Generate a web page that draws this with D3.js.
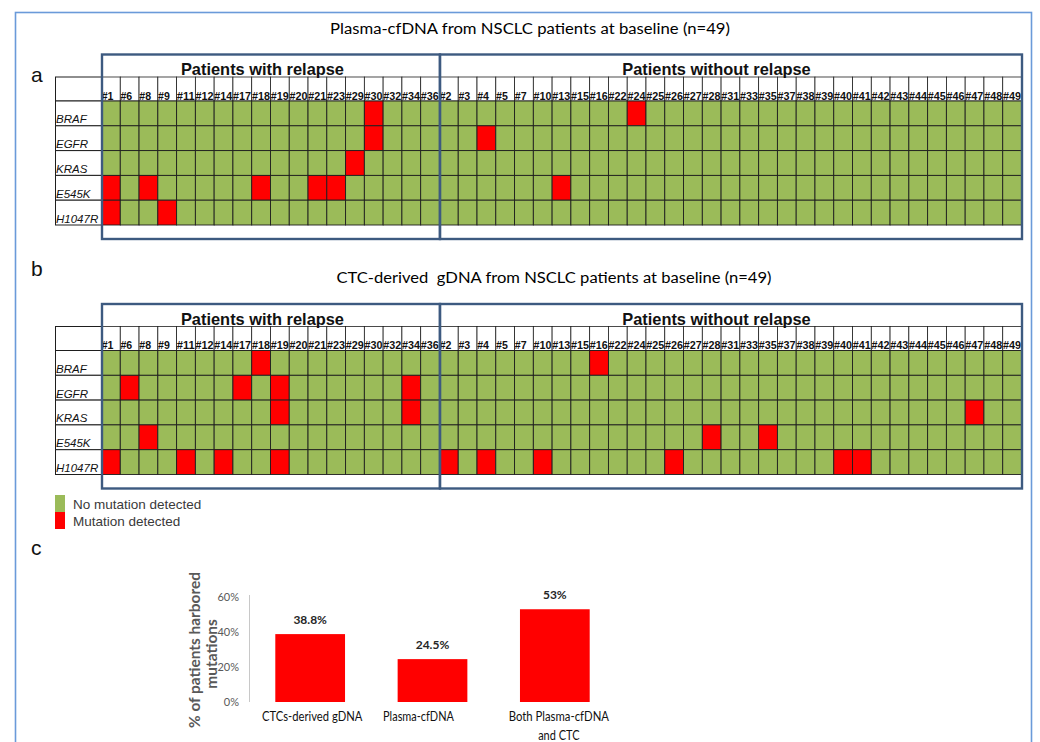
<!DOCTYPE html>
<html>
<head>
<meta charset="utf-8">
<script src="https://cdn.jsdelivr.net/npm/d3@7"></script>
<style>
  body { margin: 0; background: #fff; }
  svg { display: block; }
</style>
</head>
<body>
<svg id="chart" width="1040" height="742"></svg>
<script>
// ---------------- DATA ----------------
const relapsePatients = ["#1","#6","#8","#9","#11","#12","#14","#17","#18","#19","#20","#21","#23","#29","#30","#32","#34","#36"];
const nonRelapsePatients = ["#2","#3","#4","#5","#7","#10","#13","#15","#16","#22","#24","#25","#26","#27","#28","#31","#33","#35","#37","#38","#39","#40","#41","#42","#43","#44","#45","#46","#47","#48","#49"];
const genes = ["BRAF","EGFR","KRAS","E545K","H1047R"];

// [gene, patient] pairs where a mutation was detected
const plasmaMutations = [
  ["BRAF","#30"],["BRAF","#24"],
  ["EGFR","#30"],["EGFR","#4"],
  ["KRAS","#29"],
  ["E545K","#1"],["E545K","#8"],["E545K","#18"],["E545K","#21"],["E545K","#23"],["E545K","#13"],
  ["H1047R","#1"],["H1047R","#9"]
];
const ctcMutations = [
  ["BRAF","#18"],["BRAF","#16"],
  ["EGFR","#6"],["EGFR","#17"],["EGFR","#19"],["EGFR","#34"],
  ["KRAS","#19"],["KRAS","#34"],["KRAS","#47"],
  ["E545K","#8"],["E545K","#28"],["E545K","#35"],
  ["H1047R","#1"],["H1047R","#11"],["H1047R","#14"],["H1047R","#19"],
  ["H1047R","#2"],["H1047R","#4"],["H1047R","#10"],["H1047R","#26"],["H1047R","#40"],["H1047R","#41"]
];

const legendLabels = ["No mutation detected","Mutation detected"];

const barCategories = [["CTCs-derived gDNA"],["Plasma-cfDNA"],["Both Plasma-cfDNA","and CTC"]];
const barValues = [38.8, 24.5, 53];
const barLabels = ["38.8%","24.5%","53%"];
const yTicks = [0, 20, 40, 60];

// ---------------- STYLE ----------------
const GREEN = "#9bbb59", RED = "#ff0000", GRID = "#1e1e1e", BOX = "#3d5a80";
const svg = d3.select("#chart");

// outer frame
svg.append("rect").attr("x", 15.5).attr("y", 12.5).attr("width", 1016).attr("height", 760)
  .attr("fill", "none").attr("stroke", "#6a9ad9").attr("stroke-width", 1.6);

const allPatients = relapsePatients.concat(nonRelapsePatients);
const x = d3.scaleBand().domain(allPatients).range([101.5, 1021.5]).padding(0);

function drawHeatmap(off, title, titleX, titleLen, mutations) {
  const g = svg.append("g").attr("transform", `translate(0,${off})`);
  const mutSet = new Set(mutations.map(d => d[0] + "|" + d[1]));
  const y = d3.scaleBand().domain(genes).range([101, 225]).padding(0);
  const headTop = 77, headBot = 101;

  g.append("text").attr("x", titleX).attr("y", 33.5).attr("text-anchor", "middle")
    .style("white-space", "pre")
    .attr("font-family", "Lato, 'Open Sans', sans-serif").attr("font-size", 15.5).attr("fill", "#000")
    .attr("textLength", titleLen).attr("lengthAdjust", "spacingAndGlyphs")
    .text(title);

  // label column cells
  const labelRows = [{t: headTop, b: headBot}].concat(genes.map(gn => ({t: y(gn), b: y(gn) + y.bandwidth()})));
  g.selectAll("rect.lab").data(labelRows).join("rect").attr("class", "lab")
    .attr("x", 55.5).attr("y", d => d.t).attr("width", 46).attr("height", d => d.b - d.t)
    .attr("fill", "#fff").attr("stroke", GRID).attr("stroke-width", 1);

  // header cells
  g.selectAll("rect.head").data(allPatients).join("rect").attr("class", "head")
    .attr("x", d => x(d)).attr("y", headTop).attr("width", x.bandwidth()).attr("height", headBot - headTop)
    .attr("fill", "#fff").attr("stroke", GRID).attr("stroke-width", 0.8);

  // data cells
  const cells = [];
  genes.forEach(gn => allPatients.forEach(p => cells.push({gene: gn, patient: p, mut: mutSet.has(gn + "|" + p)})));
  g.selectAll("rect.cell").data(cells).join("rect").attr("class", "cell")
    .attr("x", d => x(d.patient)).attr("y", d => y(d.gene))
    .attr("width", x.bandwidth()).attr("height", y.bandwidth())
    .attr("fill", d => d.mut ? RED : GREEN).attr("stroke", GRID).attr("stroke-width", 0.9);

  // header text
  g.selectAll("text.pid").data(allPatients).join("text").attr("class", "pid")
    .attr("x", d => x(d) + 0.2).attr("y", 99.5)
    .attr("font-family", "'Liberation Sans', Arial, sans-serif").attr("font-weight", "bold")
    .attr("font-size", 10.6).attr("fill", "#111")
    .attr("textLength", d => d.length > 2 ? 18 : null).attr("lengthAdjust", "spacingAndGlyphs")
    .text(d => d);

  // row labels
  g.selectAll("text.gene").data(genes).join("text").attr("class", "gene")
    .attr("x", 56).attr("y", d => y(d) + y.bandwidth() - 2.5)
    .attr("font-family", "'Liberation Sans', Arial, sans-serif").attr("font-style", "italic")
    .attr("font-size", 11.5).attr("fill", "#111")
    .text(d => d);

  // group boxes
  const groups = [
    {name: "Patients with relapse", ids: relapsePatients, dx: -8},
    {name: "Patients without relapse", ids: nonRelapsePatients, dx: -14}
  ];
  groups.forEach(gr => {
    const x0 = x(gr.ids[0]), x1 = x(gr.ids[gr.ids.length - 1]) + x.bandwidth();
    g.append("rect").attr("x", x0 + 0.5).attr("y", 54.5).attr("width", x1 - x0).attr("height", 184.5)
      .attr("fill", "none").attr("stroke", BOX).attr("stroke-width", 2.4);
    g.append("text").attr("x", (x0 + x1) / 2 + gr.dx).attr("y", 75).attr("text-anchor", "middle")
      .attr("font-family", "'Liberation Sans', Arial, sans-serif").attr("font-weight", "bold")
      .attr("font-size", 16.4).attr("fill", "#111").text(gr.name);
  });
}

drawHeatmap(0, "Plasma-cfDNA from NSCLC patients at baseline (n=49)", 530, 400, plasmaMutations);
drawHeatmap(249.5, "CTC-derived  gDNA from NSCLC patients at baseline (n=49)", 554, 435, ctcMutations);

// panel letters
[["a", 82], ["b", 276], ["c", 555]].forEach(([t, yy]) => {
  svg.append("text").attr("x", 31).attr("y", yy)
    .attr("font-family", "'Liberation Sans', Arial, sans-serif").attr("font-size", 21).attr("fill", "#111").text(t);
});

// legend
const legColors = [GREEN, RED];
const leg = svg.append("g");
leg.selectAll("rect").data(legendLabels).join("rect")
  .attr("x", 55).attr("y", (d, i) => 495 + i * 17).attr("width", 10).attr("height", 17)
  .attr("fill", (d, i) => legColors[i]);
leg.selectAll("text").data(legendLabels).join("text")
  .attr("x", 73).attr("y", (d, i) => 508.5 + i * 17.5)
  .attr("font-family", "'Liberation Sans', Arial, sans-serif").attr("font-size", 13.5).attr("fill", "#3a3a3a")
  .text(d => d);

// ---------------- BAR CHART ----------------
const bx = d3.scaleBand().domain(barCategories.map(d => d.join(" "))).range([249, 616]).paddingInner(0.43).paddingOuter(0.215);
const by = d3.scaleLinear().domain([0, 60]).range([702, 597]);
const bars = svg.append("g");

bars.append("line").attr("x1", 249.5).attr("x2", 249.5).attr("y1", 595).attr("y2", 702)
  .attr("stroke", "#c8c8c8").attr("stroke-width", 1);

bars.selectAll("text.tick").data(yTicks).join("text").attr("class", "tick")
  .attr("x", 239).attr("y", d => by(d)).attr("dy", "0.35em").attr("text-anchor", "end")
  .attr("font-family", "Lato, sans-serif").attr("font-size", 11).attr("fill", "#595959")
  .text(d => d + "%");

bars.selectAll("rect.bar").data(barValues).join("rect").attr("class", "bar")
  .attr("x", (d, i) => bx(barCategories[i].join(" "))).attr("width", bx.bandwidth())
  .attr("y", d => by(d)).attr("height", d => by(0) - by(d)).attr("fill", RED);

bars.selectAll("text.val").data(barValues).join("text").attr("class", "val")
  .attr("x", (d, i) => bx(barCategories[i].join(" ")) + bx.bandwidth() / 2)
  .attr("y", d => by(d) - 10).attr("text-anchor", "middle")
  .attr("font-family", "Lato, sans-serif").attr("font-weight", "bold").attr("font-size", 12).attr("fill", "#262626")
  .text((d, i) => barLabels[i]);

// category labels (condensed to the reference's label widths)
const catShift = [2, -14, 4];
barCategories.forEach((lines, i) => {
  const cx = bx(lines.join(" ")) + bx.bandwidth() / 2 + catShift[i];
  const t = bars.append("text").attr("x", cx).attr("y", 721).attr("text-anchor", "middle")
    .attr("font-family", "Lato, sans-serif").attr("font-size", 13.5).attr("fill", "#111");
  lines.forEach((ln, j) => t.append("tspan").attr("x", cx).attr("dy", j === 0 ? 0 : 19)
    .attr("textLength", ln.length * 5.9).attr("lengthAdjust", "spacingAndGlyphs").text(ln));
});

const yTitle = bars.append("text").attr("transform", "translate(200,650) rotate(-90)")
  .attr("text-anchor", "middle").attr("font-family", "Lato, sans-serif").attr("font-weight", "bold")
  .attr("font-size", 15.5).attr("fill", "#595959");
yTitle.append("tspan").attr("x", 0).attr("dy", 0).attr("textLength", 156).attr("lengthAdjust", "spacingAndGlyphs").text("% of patients harbored");
yTitle.append("tspan").attr("x", -4).attr("dy", 16.5).text("mutations");
</script>
</body>
</html>
